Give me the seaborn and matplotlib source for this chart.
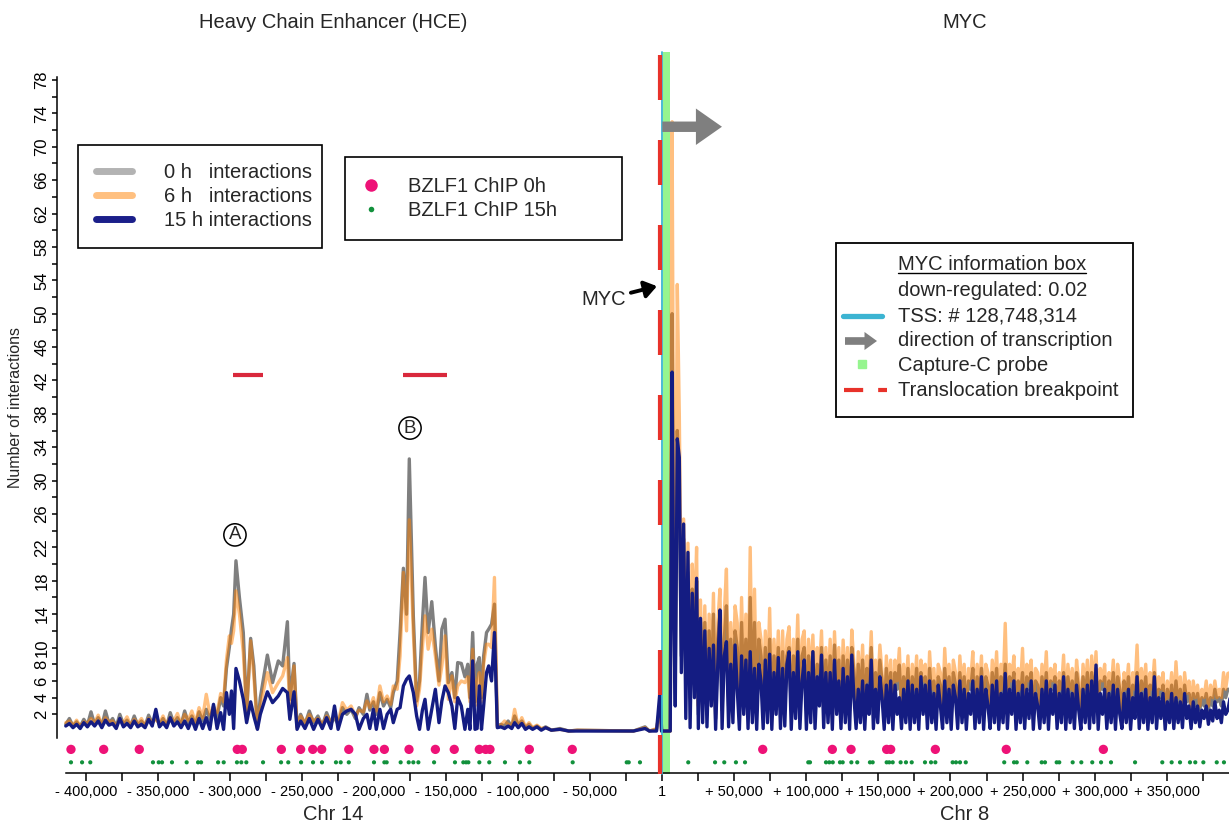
import numpy as np
import matplotlib
matplotlib.use("Agg")
import matplotlib.pyplot as plt
from matplotlib.lines import Line2D
from matplotlib.patches import Rectangle, FancyArrowPatch
import seaborn as sns

# --- data (positions in kb relative to the MYC TSS) ---------------------------

hce_kb = [-414.0, -411.5, -409.0, -406.5, -404.0, -401.5, -399.0, -396.5, -394.0, -391.5,
          -389.0, -386.5, -384.0, -381.5, -379.0, -376.5, -374.0, -371.5, -369.0, -366.5,
          -364.0, -361.5, -359.0, -356.5, -354.0, -351.5, -349.0, -346.5, -344.0, -341.5,
          -339.0, -336.5, -334.0, -331.5, -329.0, -326.5, -324.0, -321.5, -319.0, -316.5,
          -314.0, -311.5, -309.0, -306.5, -304.5, -302.5, -300.5, -299.0, -297.5, -295.9,
          -293.5, -290.8, -288.5, -285.7, -283.5, -281.0, -279.0, -274.1, -270.5, -266.5,
          -263.5, -260.2, -258.5, -255.6, -253.5, -251.0, -248.0, -245.0, -242.0, -239.0,
          -236.0, -233.0, -230.0, -227.5, -225.0, -222.0, -219.0, -216.0, -213.0, -210.5,
          -207.5, -205.0, -203.0, -200.5, -198.5, -196.0, -193.5, -191.0, -188.5, -186.7,
          -184.0, -182.0, -179.7, -177.5, -175.6, -172.8, -170.5, -168.5, -166.5, -164.7,
          -162.5, -160.0, -157.5, -155.0, -153.0, -150.8, -148.5, -146.0, -144.0, -142.0,
          -139.5, -137.0, -135.0, -133.5, -131.6, -130.0, -128.5, -127.0, -125.5, -124.0,
          -122.0, -120.5, -118.5, -116.5, -114.5, -112.0, -109.5, -107.0, -104.5, -102.5,
          -100.0, -97.5, -95.0, -92.5, -90.0, -87.0, -84.0, -81.0, -77.0, -71.0,
          -65.0, -59.0, -20.0, -12.0, -9.0, -4.0, -1.5, -0.5]
hce_0h = [0.8, 1.5, 0.6, 1.1, 0.5, 1.4, 0.7, 2.3, 0.8, 1.6,
          0.6, 2.4, 0.9, 1.5, 0.5, 2.0, 0.8, 1.3, 0.6, 1.8,
          0.7, 1.2, 0.6, 1.9, 0.9, 1.7, 0.7, 1.5, 0.6, 2.2,
          0.9, 1.6, 0.7, 2.4, 1.0, 1.8, 0.8, 2.3, 1.2, 2.6,
          1.4, 3.0, 1.6, 4.0, 3.0, 7.5, 10.0, 12.2, 14.0, 20.4,
          16.0, 11.8, 2.2, 11.1, 7.8, 0.3, 4.0, 9.1, 5.8, 8.4,
          7.8, 13.1, 3.8, 8.1, 0.5, 2.0, 0.8, 2.4, 1.0, 1.8,
          0.6, 2.2, 0.9, 1.6, 0.8, 2.8, 2.0, 2.6, 1.5, 2.8,
          2.0, 4.4, 2.5, 3.5, 2.0, 4.6, 3.0, 3.8, 2.8, 4.6,
          6.0, 11.8, 19.5, 14.0, 32.6, 13.8, 3.6, 6.0, 13.0, 18.4,
          11.8, 15.5, 10.2, 6.0, 12.2, 13.4, 5.8, 7.0, 4.0, 8.2,
          8.1, 6.5, 8.0, 4.0, 11.8, 3.5, 8.0, 8.8, 4.0, 9.0,
          11.8, 12.2, 12.8, 15.2, 0.6, 0.8, 0.6, 1.2, 0.5, 1.8,
          0.7, 1.2, 0.4, 0.8, 0.3, 0.6, 0.2, 0.5, 0.1, 0.3,
          0.0, 0.1, 0.0, 0.5, 0.0, 0.2, 3.0, 0.0]
hce_6h = [1.0, 1.2, 0.7, 1.3, 0.6, 1.1, 0.9, 1.5, 1.0, 1.9,
          0.8, 1.6, 1.1, 1.2, 0.6, 1.4, 1.0, 1.7, 0.7, 1.4,
          0.9, 1.5, 0.7, 1.5, 1.1, 1.4, 0.9, 1.8, 0.7, 1.6,
          1.2, 2.1, 0.8, 2.0, 1.3, 2.4, 1.0, 2.8, 1.6, 4.4,
          2.0, 2.8, 2.2, 4.5, 3.5, 8.5, 11.4, 10.5, 12.0, 16.8,
          14.0, 9.4, 2.2, 10.8, 6.6, 0.3, 3.0, 7.0, 4.6, 5.8,
          6.6, 8.8, 3.0, 7.8, 0.4, 1.8, 1.0, 2.0, 1.2, 1.5,
          0.8, 1.8, 1.1, 2.0, 1.0, 3.4, 2.5, 3.0, 1.8, 2.5,
          2.3, 3.6, 2.8, 4.0, 2.4, 5.4, 3.5, 4.2, 3.2, 5.4,
          5.0, 9.0, 19.0, 12.0, 25.3, 11.8, 3.0, 5.0, 10.0, 13.8,
          9.8, 12.2, 9.0, 5.5, 7.8, 11.4, 3.8, 6.6, 3.5, 5.4,
          6.0, 5.8, 6.5, 3.5, 9.8, 3.0, 6.0, 7.0, 3.5, 8.0,
          10.4, 10.4, 10.0, 18.4, 0.5, 0.7, 1.2, 0.8, 0.6, 2.6,
          0.6, 1.6, 0.5, 1.0, 0.4, 0.7, 0.3, 0.4, 0.1, 0.2,
          0.0, 0.1, 0.0, 0.4, 0.0, 0.3, 2.5, 0.0]
hce_15h = [0.6, 0.9, 0.4, 0.8, 0.3, 1.0, 0.5, 1.1, 0.6, 1.2,
           0.4, 1.3, 0.7, 0.9, 0.3, 1.5, 0.5, 0.9, 0.4, 1.2,
           0.5, 0.8, 0.4, 1.4, 0.6, 2.6, 0.5, 1.0, 0.4, 1.6,
           0.6, 1.1, 0.4, 1.2, 0.3, 1.4, 0.2, 1.5, 0.3, 1.6,
           0.2, 3.2, 0.3, 2.2, 0.2, 4.6, 2.0, 4.8, 0.3, 7.5,
           6.0, 3.8, 1.0, 3.5, 1.8, 0.2, 2.0, 4.7, 3.4, 4.2,
           5.1, 4.6, 1.4, 4.7, 0.2, 1.2, 0.3, 1.5, 0.2, 1.4,
           0.3, 1.6, 0.3, 3.0, 0.2, 2.0, 2.4, 2.6, 2.0, 0.2,
           1.5, 2.0, 0.3, 2.6, 0.2, 2.6, 0.3, 2.0, 2.6, 1.0,
           2.6, 2.8, 5.4, 6.2, 6.6, 4.6, 1.8, 0.2, 2.5, 3.8,
           0.2, 2.6, 5.0, 1.0, 3.6, 5.4, 4.6, 3.0, 0.3, 4.0,
           3.0, 0.2, 2.6, 0.2, 8.4, 0.2, 0.3, 5.4, 0.2, 3.0,
           7.0, 7.8, 6.0, 11.8, 0.4, 0.5, 0.3, 0.6, 0.3, 1.0,
           0.4, 0.9, 0.2, 0.5, 0.2, 0.5, 0.1, 0.4, 0.1, 0.2,
           0.0, 0.0, 0.0, 0.3, 0.0, 0.0, 5.0, 0.0]

myc_kb = [5.5, 6.2, 6.8, 7.8, 9.0, 10.4, 11.8, 13.2, 14.8, 16.3,
          17.8, 19.3, 20.8, 22.3, 23.8,
          25.0, 26.5, 28.0, 29.5, 31.0, 32.5, 34.0, 35.5, 37.0, 38.5,
          40.0, 41.5, 43.0, 44.5, 46.0, 47.5, 49.0, 50.5, 52.0, 53.5,
          55.0, 56.5, 58.0, 59.5, 61.0, 62.5, 64.0, 65.5, 67.0, 68.5,
          70.0, 71.5, 73.0, 74.5, 76.0, 77.5, 79.0, 80.5, 82.0, 83.5,
          85.0, 86.5, 88.0, 89.5, 91.0, 92.5, 94.0, 95.5, 97.0, 98.5,
          100.0, 101.5, 103.0, 104.5, 106.0, 107.5, 109.0, 110.5, 112.0, 113.5,
          115.0, 116.5, 118.0, 119.5, 121.0, 122.5, 124.0, 125.5, 127.0, 128.5,
          130.0, 131.5, 133.0, 134.5, 136.0, 137.5, 139.0, 140.5, 142.0, 143.5,
          145.0, 146.5, 148.0, 149.5, 151.0, 152.5, 154.0, 155.5, 157.0, 158.5,
          160.0, 161.5, 163.0, 164.5, 166.0, 167.5, 169.0, 170.5, 172.0, 173.5,
          175.0, 176.5, 178.0, 179.5, 181.0, 182.5, 184.0, 185.5, 187.0, 188.5,
          190.0, 191.5, 193.0, 194.5, 196.0, 197.5, 199.0, 200.5, 202.0, 203.5,
          205.0, 206.5, 208.0, 209.5, 211.0, 212.5, 214.0, 215.5, 217.0, 218.5,
          220.0, 221.5, 223.0, 224.5, 226.0, 227.5, 229.0, 230.5, 232.0, 233.5,
          235.0, 236.5, 238.0, 239.5, 241.0, 242.5, 244.0, 245.5, 247.0, 248.5,
          250.0, 251.5, 253.0, 254.5, 256.0, 257.5, 259.0, 260.5, 262.0, 263.5,
          265.0, 266.5, 268.0, 269.5, 271.0, 272.5, 274.0, 275.5, 277.0, 278.5,
          280.0, 281.5, 283.0, 284.5, 286.0, 287.5, 289.0, 290.5, 292.0, 293.5,
          295.0, 296.5, 298.0, 299.5, 301.0, 302.5, 304.0, 305.5, 307.0, 308.5,
          310.0, 311.5, 313.0, 314.5, 316.0, 317.5, 319.0, 320.5, 322.0, 323.5,
          325.0, 326.5, 328.0, 329.5, 331.0, 332.5, 334.0, 335.5, 337.0, 338.5,
          340.0, 341.5, 343.0, 344.5, 346.0, 347.5, 349.0, 350.5, 352.0, 353.5,
          355.0, 356.5, 358.0, 359.5, 361.0, 362.5, 364.0, 365.5, 367.0, 368.5,
          370.0, 371.5, 373.0, 374.5, 376.0, 377.5, 379.0, 380.5, 382.0, 383.5,
          385.0, 386.5, 388.0, 389.5, 391.0, 392.5, 394.0]
myc_0h = [0, 30, 50, 22, 7, 36, 27, 9, 23, 6, 19, 4, 17, 11, 18,
          2, 13, 4, 13, 2, 12, 5, 14, 1.5, 11,
          14, 2.5, 11, 15, 3, 11, 5, 12, 10, 2.5,
          13, 5, 11, 2.5, 16, 4, 13, 2.5, 11, 9,
          3, 10, 4, 11, 2.5, 9, 5, 10, 2.5, 9.5,
          3, 9, 10, 2.5, 9, 5, 11, 2.5, 9, 10,
          2.5, 9, 5, 9.5, 3, 8, 5, 10, 2.5, 8.5,
          4, 9, 2.5, 10.3, 5, 8.5, 2.5, 9, 4, 8.5,
          2.5, 10, 7, 2.5, 8, 4, 8.5, 2.5, 7.5, 5,
          10, 2.5, 7, 4, 8.5, 6, 2, 7.5, 4, 7,
          2, 7, 5, 7.9, 2.5, 6.5, 4, 7.5, 2, 6.5,
          4, 7.5, 2.5, 7, 5, 6.5, 2, 7.5, 4, 6,
          2.5, 6.5, 5.5, 2, 7.5, 4, 6.5, 2.5, 7, 5.5,
          2, 7, 4, 6.5, 2.5, 6, 5, 7.5, 2.5, 6.5,
          4, 7.5, 2, 6.5, 5.5, 2.5, 7, 4, 7.5, 2.5,
          6.5, 4, 8, 2.5, 6.5, 5, 7, 2, 6, 4,
          7, 2.5, 6.5, 5, 7, 2, 6, 5.5, 2.5, 6.5,
          4, 7, 2.5, 6, 5, 6.5, 2, 6, 4, 7,
          2.5, 6.5, 4, 6, 2.5, 7, 5, 2, 6.5, 4,
          7, 2.5, 7, 4, 7.5, 2.5, 6, 5, 6.5, 2,
          6, 4, 7, 2.5, 6.5, 5, 2, 6, 4, 6.5,
          2.5, 5.5, 4, 7, 2.5, 6, 4, 6.5, 2, 5.5,
          4, 7, 2.5, 5, 4, 5.5, 2, 5, 3, 5.5,
          2.5, 6, 3, 5, 2, 5.5, 3.5, 4.5, 2.5, 4.5,
          3, 4.5, 2.5, 4, 3, 4.5, 2.5, 4, 3, 5,
          3.5, 4, 3, 5, 4, 5, 5]
myc_6h = [0, 46, 73, 30, 10, 53.5, 38, 14, 25.4, 8, 22.5, 6, 20, 13, 22,
          3, 15.7, 5, 15, 3, 14, 7, 16.5, 2, 13,
          17, 3, 14, 19.4, 4, 13, 6, 15, 13, 3,
          16, 7, 14, 3, 22, 5, 17, 3, 13, 11,
          4, 12, 5, 14.7, 3, 11, 6, 12, 3, 12,
          4, 11, 12.5, 3, 11, 6, 13.9, 3, 11, 12,
          3, 11, 6, 11.5, 4, 10, 7, 12, 3, 10,
          5, 11, 3, 11.9, 6, 10, 3, 10.9, 5, 10,
          3, 12.1, 8, 3, 9.5, 5, 10.3, 3, 9, 6,
          11.9, 3, 8.5, 5, 10.3, 7, 2.5, 9, 5, 8.5,
          2.5, 8.5, 6, 9.9, 3, 8, 5, 9, 2.5, 8,
          5, 9, 3, 8.5, 6, 8, 2.5, 9.5, 5, 7.5,
          3, 8, 7, 2.5, 9.9, 5, 8, 3, 8.5, 7,
          2.5, 9, 5, 8, 3, 7.5, 6, 9.5, 3, 8,
          5, 9, 2.5, 8, 7, 3, 8.5, 5, 9.5, 3,
          8, 5, 12.9, 3, 8, 6, 9, 2.5, 7.5, 5,
          9.9, 3, 8, 6, 8.5, 2.5, 7.5, 7, 3, 8,
          5, 9.5, 3, 7.5, 6, 8, 2.5, 7, 5, 9.1,
          3, 8, 5, 7.5, 3, 8.5, 6, 2.5, 8, 5,
          8.5, 3, 9, 5, 9.5, 3, 7.5, 6, 8, 2.5,
          7, 5, 8.5, 3, 8, 6, 2.5, 7, 5, 8,
          3, 7, 5, 10.3, 3, 7.5, 5, 8, 2.5, 7,
          5, 8.5, 3, 6.5, 5, 7, 2.5, 6, 4, 7,
          3, 8.3, 4, 6.5, 2.5, 7, 4.5, 6, 3, 6,
          4, 5.5, 3, 5, 4, 6, 3, 5.5, 4, 6,
          4, 5, 4, 7, 5, 6.9, 7]
myc_15h = [0, 26, 43, 16, 3, 35, 32.8, 7, 24.8, 1.5, 21.4, 0.4, 16.5, 4, 18.3,
           0.3, 13.5, 1, 12, 0.5, 9.9, 3, 10.3, 0.2, 8,
           14.5, 0.3, 9, 10.7, 0.5, 8, 1, 10.3, 5, 0.2,
           9, 2, 8.5, 0.3, 9.5, 1, 7.5, 0.2, 8, 6,
           0.3, 8.5, 1, 9.2, 0.2, 7, 2, 8.8, 0.3, 7.5,
           0.6, 8, 9.5, 0.2, 7, 1.5, 9.5, 0.3, 6, 8.5,
           0.2, 7, 1, 9.5, 0.3, 6.5, 3, 9.1, 0.4, 7,
           1, 7, 0.2, 8.5, 2, 6, 0.3, 7.5, 1, 6.5,
           0.2, 9.1, 4, 0.3, 5, 1, 6, 0.2, 5.5, 2,
           8.5, 0.3, 5, 1, 6.5, 4, 0.2, 5.5, 1, 6,
           0.2, 5.5, 2, 4, 0.3, 5, 1, 6, 0.2, 5.5,
           1, 5, 0.2, 6.5, 2, 5.5, 0.3, 6, 1, 4.5,
           0.2, 5.5, 3, 0.3, 6, 1, 5, 0.2, 5.5, 4,
           0.3, 6, 1, 5, 0.2, 4.5, 2, 6, 0.3, 5,
           1, 6.5, 0.2, 5, 3, 0.3, 5.5, 1, 6, 0.2,
           4.5, 1, 6.9, 0.3, 5, 2, 6, 0.2, 4.5, 1,
           5.5, 0.3, 5, 1.5, 6, 0.2, 4.5, 3, 0.3, 5,
           1, 6, 0.2, 5, 2, 5.5, 0.3, 4.5, 1, 6.5,
           0.2, 5, 1, 4.5, 0.3, 5.5, 2.5, 0.2, 5, 1,
           5.5, 0.3, 6, 1, 7.9, 0.2, 4.5, 2, 5, 0.3,
           4.5, 1, 5.5, 0.2, 5, 2, 0.3, 4.5, 1, 5,
           0.2, 4, 1.5, 6.5, 0.3, 4.5, 1, 5, 0.2, 4,
           1, 6.5, 0.3, 4, 1.5, 4.5, 0.2, 3.5, 1, 4.5,
           0.3, 4, 1, 3.5, 0.4, 4.5, 1.5, 3, 0.3, 3.5,
           1, 3, 0.5, 2.5, 1.5, 3, 0.8, 2.5, 1.2, 3.5,
           1.5, 2.5, 1, 3.5, 2, 2.5, 3.9]

# BZLF1 ChIP peak positions (kb)
chip_0h = [-410.4, -387.7, -363.0, -295.0, -291.5, -264.4, -251.0, -242.6, -236.4, -217.6,
           -200.1, -192.9, -175.8, -157.5, -144.4, -127.0, -122.6, -119.6, -92.3, -62.5,
           69.7, 118.0, 131.0, 155.7, 158.5, 189.5, 238.7, 306.1]
chip_15h = [-410.4, -402.7, -397.0, -353.5, -349.5, -347.2, -340.3, -330.1, -322.2, -320.1,
            -308.3, -304.4, -295.2, -292.2, -288.7, -277.1, -264.6, -259.6, -250.7, -242.4,
            -236.2, -226.5, -223.2, -217.6, -200.1, -192.9, -191.3, -181.6, -176.0, -172.8,
            -169.3, -158.4, -143.9, -138.1, -136.2, -134.6, -127.0, -120.1, -109.2, -98.8,
            -92.3, -62.2, -24.7, -23.3, -15.5, 18.0, 36.6, 43.0, 51.1, 57.4,
            101.3, 102.5, 113.6, 115.9, 118.3, 123.3, 125.2, 131.2, 135.3, 144.1,
            146.0, 155.7, 157.5, 159.9, 165.4, 169.1, 173.1, 182.3, 186.5, 189.5,
            201.5, 203.8, 206.6, 210.6, 237.3, 244.1, 246.0, 253.3, 263.3, 265.6,
            273.7, 275.5, 284.8, 290.8, 298.4, 304.5, 311.4, 328.1, 347.0, 353.5,
            359.3, 366.2, 369.9, 375.5, 384.8, 389.8]

# annotated regions / features (kb)
peak_a = (-297.9, -277.1)
peak_b = (-180.0, -149.4)
breakpoint_kb = -1.5
tss_kb = 0.0
probe_kb = (0.3, 5.6)
xtick_kb = list(range(-400, 351, 50))

# --- style -------------------------------------------------------------------
sns.set_style("ticks")
plt.rcParams["font.family"] = ["Liberation Sans", "DejaVu Sans"]

W, H = 1229, 826
GRAY, ORANGE, NAVY = "#7f7f7f", "#ff8000", "#141c82"
PINK, GREEN = "#ee1277", "#12913c"
LIGHTGREEN, CYAN, RED = "#96f58f", "#3cb4d2", "#e8322a"


def fx(px):
    return px / W


def fy(py):
    return 1 - py / H


fig = plt.figure(figsize=(W / 100, H / 100), dpi=100)
ax = fig.add_axes([fx(57), fy(737.7), fx(W - 57), (737.7 - 77.5) / H])

pos = np.array(hce_kb + myc_kb)
series = [(hce_0h + myc_0h, GRAY, 1.0, 2),
          (hce_6h + myc_6h, ORANGE, 0.5, 3),
          (hce_15h + myc_15h, NAVY, 1.0, 4)]
for vals, col, alpha, z in series:
    sns.lineplot(x=pos, y=np.array(vals), ax=ax, color=col, alpha=alpha, lw=2.4,
                 sort=False, estimator=None, zorder=z)

# ChIP rows below the traces
sns.scatterplot(x=chip_0h, y=np.full(len(chip_0h), -2.2), ax=ax, color=PINK, s=45,
                edgecolor="none", clip_on=False, zorder=5)
sns.scatterplot(x=chip_15h, y=np.full(len(chip_15h), -3.75), ax=ax, color=GREEN, s=9,
                edgecolor="none", clip_on=False, zorder=5)

# probe, TSS and breakpoint markers
ax.fill_betweenx([-5.2, 81.4], probe_kb[0], probe_kb[1], color=LIGHTGREEN, lw=0,
                 clip_on=False, zorder=1)
ax.plot([tss_kb, tss_kb], [81.4, -5.2], color=CYAN, lw=1.3, clip_on=False, zorder=5)
ax.plot([breakpoint_kb, breakpoint_kb], [81.0, -5.2], color=RED, lw=3,
        ls=(0, (10.8, 9.6)), clip_on=False, zorder=6)

# direction of transcription
ax.annotate("", xy=(41.4, 72.4), xytext=(tss_kb, 72.4),
            arrowprops=dict(arrowstyle="simple,head_length=1.25,head_width=1.75,tail_width=0.5",
                            fc=GRAY, ec="none", mutation_scale=15, shrinkA=0, shrinkB=0),
            zorder=6)
ax.annotate("MYC", xy=(-3.7, 53.3), xytext=(-40.5, 51.7), ha="center", va="center",
            fontsize=14.5,
            arrowprops=dict(arrowstyle="-|>,head_length=0.5,head_width=0.35", color="black",
                            lw=2.8, shrinkA=1, shrinkB=0))

# enhancer peaks
for lo, hi in (peak_a, peak_b):
    ax.plot([lo, hi], [42.7, 42.7], color="#d9283c", lw=3, solid_capstyle="butt")
for lbl, xk, yv in (("A", -296.6, 23.5), ("B", -175.1, 36.3)):
    ax.text(xk, yv, lbl, ha="center", va="center", fontsize=13.5,
            bbox=dict(boxstyle="circle,pad=0.14", fc="none", ec="black", lw=1.1))

# --- axes --------------------------------------------------------------------
ax.set_xlim(-420.1, 393.3)
ax.set_ylim(-0.8, 78.3)
sns.despine(ax=ax)
ax.spines["bottom"].set_position(("outward", 25.4))
ax.spines["bottom"].set_bounds(-414, 393.3)
for s in ("left", "bottom"):
    ax.spines[s].set_color("black")
    ax.spines[s].set_linewidth(1.1)

yt = list(range(2, 79, 2))
ax.set_yticks(yt)
ax.set_yticklabels([str(v) if v <= 10 or (v - 2) % 4 == 0 else "" for v in yt],
                   rotation=90, va="center", fontsize=12)


def kb_label(v):
    if v == 0:
        return "1"
    return ("- " if v < 0 else "+ ") + f"{abs(v) * 1000:,}"


ax.set_xticks(xtick_kb)
ax.set_xticklabels([kb_label(v) for v in xtick_kb], fontsize=10.5)
ax.set_xticks([v + 25 for v in xtick_kb], minor=True)
ax.tick_params(axis="both", which="both", colors="black", width=1.1, direction="out")
ax.tick_params(axis="x", which="both", length=5.8, pad=3)
ax.tick_params(axis="y", length=3.5, pad=2)
ax.set_xlabel("")
ax.set_ylabel("Number of interactions", fontsize=11.5)
ax.yaxis.set_label_coords(-0.029, 0.5)

fig.text(fx(333), fy(22), "Heavy Chain Enhancer (HCE)", ha="center", va="center", fontsize=14.5)
fig.text(fx(965), fy(22), "MYC", ha="center", va="center", fontsize=14.5)
fig.text(fx(333), fy(815), "Chr 14", ha="center", va="center", fontsize=14.5)
fig.text(fx(965), fy(815), "Chr 8", ha="center", va="center", fontsize=14.5)

# --- legends -----------------------------------------------------------------
leg_kw = dict(loc="upper left", mode="expand", fontsize=14.5, frameon=True, fancybox=False,
              edgecolor="black", framealpha=1, borderaxespad=0)
h1 = [Line2D([], [], color=c, lw=5, solid_capstyle="round") for c in ("#b3b3b3", "#ffc080", "#1b1f8a")]
leg1 = fig.legend(h1, ["0 h   interactions", "6 h   interactions", "15 h interactions"],
                  bbox_to_anchor=(fx(78), fy(242), fx(322 - 78), (242 - 145) / H),
                  handlelength=1.8, handletextpad=1.55, labelspacing=0.24, borderpad=0.9, **leg_kw)
leg1.get_frame().set_linewidth(1.2)
h2 = [Line2D([], [], ls="none", marker="o", ms=9, color=PINK, mec="none"),
      Line2D([], [], ls="none", marker="o", ms=4, color=GREEN, mec="none")]
leg2 = fig.legend(h2, ["BZLF1 ChIP 0h", "BZLF1 ChIP 15h"],
                  bbox_to_anchor=(fx(345), fy(240), fx(622 - 345), (240 - 157) / H),
                  handlelength=0.6, handletextpad=1.55, labelspacing=0.25, borderpad=1.0, **leg_kw)
leg2.get_frame().set_linewidth(1.2)

# MYC information box
fig.add_artist(Rectangle((fx(836), fy(417)), fx(1133 - 836), (417 - 243) / H, fill=False,
                         ec="black", lw=1.3, transform=fig.transFigure))
info_rows = ["MYC information box", "down-regulated: 0.02", "TSS: # 128,748,314",
             "direction of transcription", "Capture-C probe", "Translocation breakpoint"]
row_y = [265, 291, 316, 341, 365, 390]
texts = [fig.text(fx(898), fy(y), t, ha="left", va="center", fontsize=14.5)
         for t, y in zip(info_rows, row_y)]
fig.canvas.draw()
bb = texts[0].get_window_extent(fig.canvas.get_renderer())
fig.add_artist(Line2D([fx(bb.x0), fx(bb.x1)], [fy(272.5)] * 2, color="black", lw=1,
                      transform=fig.transFigure))
fig.add_artist(Line2D([fx(843), fx(882)], [fy(316)] * 2, color=CYAN, lw=3.8,
                      solid_capstyle="round", transform=fig.transFigure))
fig.add_artist(FancyArrowPatch((fx(845), fy(341)), (fx(877), fy(341)), transform=fig.transFigure,
                               arrowstyle="simple,head_length=0.9,head_width=1.3,tail_width=0.55",
                               mutation_scale=10, fc=GRAY, ec="none", shrinkA=0, shrinkB=0))
fig.add_artist(Line2D([fx(862)], [fy(364)], marker="s", ms=6, color=LIGHTGREEN, ls="none",
                      transform=fig.transFigure))
fig.add_artist(Line2D([fx(844), fx(887)], [fy(390)] * 2, color=RED, lw=3, ls=(0, (4.6, 3.6)),
                      transform=fig.transFigure))

fig.savefig("out.png", dpi=100)
